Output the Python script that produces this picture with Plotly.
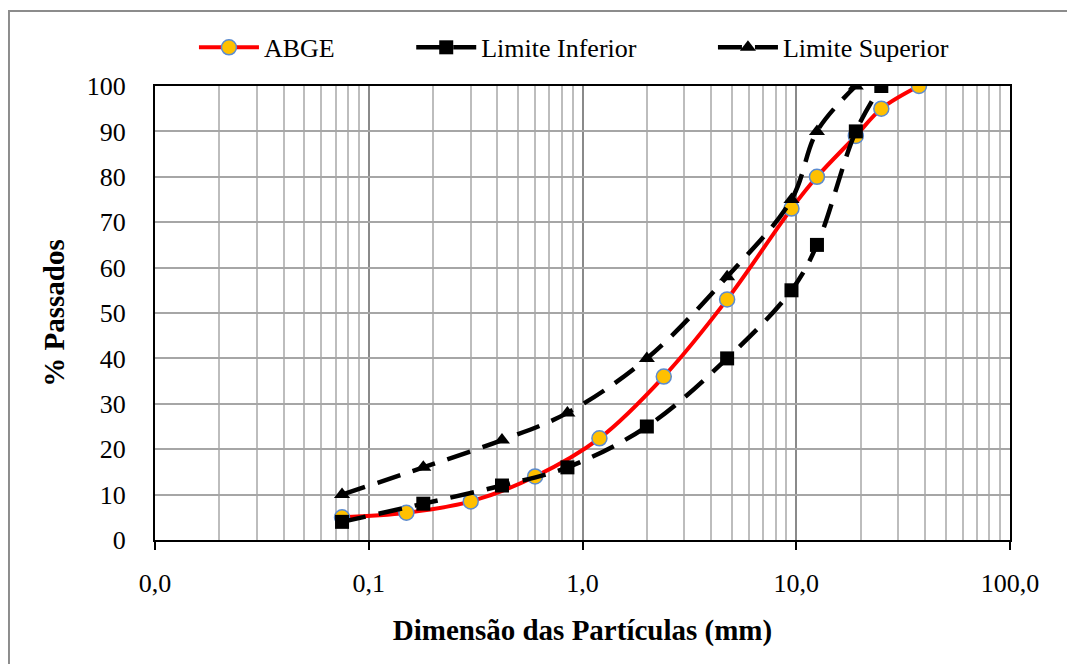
import plotly.graph_objects as go

# Data
abge_x = [0.075, 0.15, 0.3, 0.6, 1.2, 2.4, 4.75, 9.5, 12.5, 19, 25, 37.5]
abge_y = [5, 6, 8.5, 14, 22.4, 36, 53, 73, 80, 89, 95, 100]

inf_x = [0.075, 0.18, 0.42, 0.85, 2.0, 4.75, 9.5, 12.5, 19, 25]
inf_y = [4, 8, 12, 16, 25, 40, 55, 65, 90, 100]

sup_x = [0.075, 0.18, 0.42, 0.85, 2.0, 4.75, 9.5, 12.5, 19]
sup_y = [10, 16, 22, 28, 40, 58, 75, 90, 100]

x_tickvals = [0.01, 0.1, 1, 10, 100]
x_ticktext = ["0,0", "0,1", "1,0", "10,0", "100,0"]
minor_vals = [m * d for d in [0.01, 0.1, 1, 10] for m in range(2, 10)]

FONT = "Liberation Serif, Times New Roman, serif"
PAD = "\u00a0" * 11

fig = go.Figure()
fig.add_trace(go.Scatter(
    x=abge_x, y=abge_y, name="ABGE" + PAD, mode="lines+markers",
    line=dict(color="#FF0000", width=4, shape="spline", smoothing=1),
    marker=dict(symbol="circle", size=15, color="#FFC000",
                line=dict(color="#5B8BD0", width=1.5)),
))
fig.add_trace(go.Scatter(
    x=inf_x, y=inf_y, name="Limite Inferior" + PAD, mode="lines+markers",
    line=dict(color="#000000", width=4.5, dash="24px,13px", shape="spline", smoothing=1),
    marker=dict(symbol="square", size=14, color="#000000"),
))
fig.add_trace(go.Scatter(
    x=sup_x, y=sup_y, name="Limite Superior", mode="lines+markers",
    line=dict(color="#000000", width=4.5, dash="24px,13px", shape="spline", smoothing=1),
    marker=dict(symbol="triangle-up", size=14, color="#000000"),
))

fig.update_layout(
    width=1067, height=656,
    margin=dict(l=147, r=65, t=78, b=124),
    paper_bgcolor="white", plot_bgcolor="white",
    font=dict(family=FONT, size=26, color="black"),
    showlegend=True,
    legend=dict(orientation="h", x=0.49, xanchor="center", y=1.085, yanchor="middle",
                font=dict(family=FONT, size=26), itemwidth=60,
                bgcolor="rgba(0,0,0,0)"),
    shapes=[dict(type="rect", xref="paper", yref="paper",
                 x0=-0.1708, x1=1.2, y0=-0.5, y1=1.165,
                 line=dict(color="#8C8C8C", width=2), layer="below")],
)

fig.update_xaxes(
    type="log", range=[-2, 2],
    tickvals=x_tickvals, ticktext=x_ticktext,
    showgrid=True, gridcolor="#8a8a8a", gridwidth=1.5,
    minor=dict(tickvals=minor_vals, showgrid=True, gridcolor="#bdbdbd", gridwidth=1.5, ticks=""),
    showline=True, linecolor="black", linewidth=2, mirror=True,
    ticks="outside", ticklen=8, tickcolor="black", tickwidth=1.5,
    ticklabelstandoff=11,
    tickfont=dict(family=FONT, size=26),
    title=dict(text="<b>Dimensão das Partículas (mm)</b>", font=dict(family=FONT, size=29), standoff=22),
    zeroline=False,
)
fig.update_yaxes(
    range=[0, 100], dtick=10, tick0=0,
    showgrid=True, gridcolor="#a6a6a6", gridwidth=1.5,
    showline=True, linecolor="black", linewidth=2, mirror=True,
    ticks="", ticklabelstandoff=22,
    tickfont=dict(family=FONT, size=26),
    title=dict(text="<b>% Passados</b>", font=dict(family=FONT, size=29), standoff=14),
    zeroline=False,
)

fig.write_html("out.html")
